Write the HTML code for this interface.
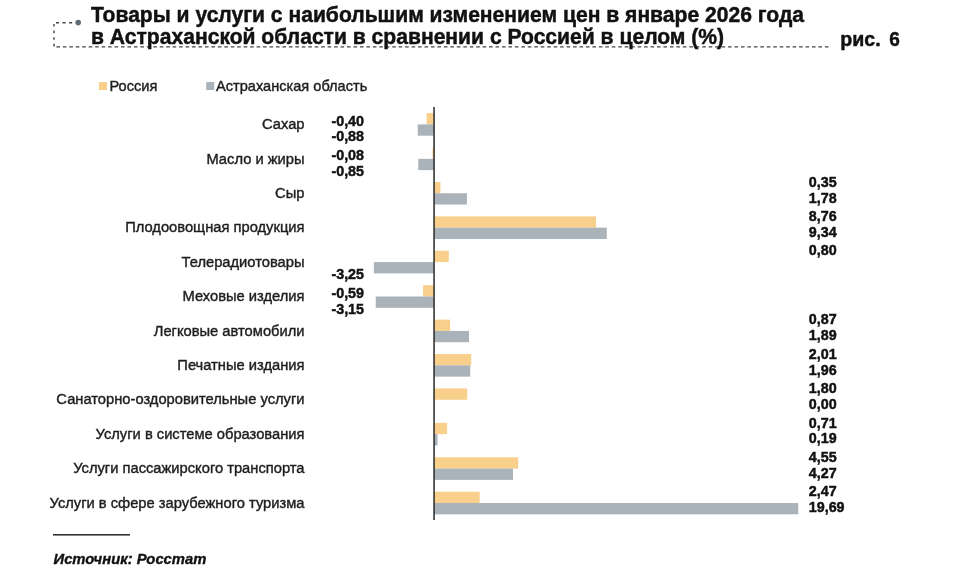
<!DOCTYPE html>
<html><head><meta charset="utf-8">
<style>
html,body{margin:0;padding:0;background:#fff;}
body{width:960px;height:571px;overflow:hidden;position:relative;font-family:"Liberation Sans",sans-serif;}
svg{position:absolute;left:0;top:0;filter:blur(0.3px);}
text{font-family:"Liberation Sans",sans-serif;}
.title{font-size:21.1px;font-weight:bold;fill:#111;stroke:#111;stroke-width:0.45px;}
.cat{font-size:14.72px;fill:#1e1e1e;stroke:#1e1e1e;stroke-width:0.4px;}
.val{font-size:14.3px;font-weight:bold;fill:#111;stroke:#111;stroke-width:0.45px;}
.leg{font-size:14.6px;fill:#1e1e1e;stroke:#1e1e1e;stroke-width:0.4px;}
.src{font-size:14.8px;font-weight:bold;font-style:italic;fill:#111;stroke:#111;stroke-width:0.35px;}
</style></head><body>
<svg width="960" height="571" viewBox="0 0 960 571">
<g stroke="#444" stroke-width="1.4" fill="none">
<line x1="56" y1="22.7" x2="75" y2="22.7" stroke-dasharray="3 3.55"/>
<line x1="54" y1="24" x2="54" y2="46.5" stroke-dasharray="2.6 4"/>
<line x1="56.4" y1="46.9" x2="829" y2="46.9" stroke-dasharray="3.6 2.858"/>
</g>
<circle cx="78.2" cy="22.6" r="2.8" fill="#5f6b78"/>
<text transform="translate(91.00 21.80) scale(1 1.05)" class="title">Товары и услуги с наибольшим изменением цен в январе 2026 года</text>
<text transform="translate(91.00 43.80) scale(1 1.05)" class="title">в Астраханской области в сравнении с Россией в целом (%)</text>
<text transform="translate(840.30 45.50) scale(1 1.0)" class="title" style="font-size:19.6px">рис.</text>
<text transform="translate(889.30 45.50) scale(1 1.02)" class="title" style="font-size:19px">6</text>
<rect x="99" y="82" width="8" height="8" fill="#F8D08C"/>
<text transform="translate(109.50 90.80) scale(1 1.05)" class="leg">Россия</text>
<rect x="206.2" y="82" width="8" height="8" fill="#AAB3BA"/>
<text transform="translate(216.00 90.80) scale(1 1.05)" class="leg">Астраханская область</text>
<rect x="426.60" y="113.10" width="7.40" height="11.3" fill="#F8D08C"/>
<rect x="417.72" y="124.40" width="16.28" height="11.3" fill="#AAB3BA"/>
<text transform="translate(304.50 129.10) scale(1 1.05)" class="cat" text-anchor="end">Сахар</text>
<text transform="translate(364.00 125.50) scale(1 1.05)" class="val" text-anchor="end">-0,40</text>
<text transform="translate(364.00 141.40) scale(1 1.05)" class="val" text-anchor="end">-0,88</text>
<rect x="432.52" y="147.52" width="1.48" height="11.3" fill="#F8D08C"/>
<rect x="418.27" y="158.82" width="15.72" height="11.3" fill="#AAB3BA"/>
<text transform="translate(304.50 163.52) scale(1 1.05)" class="cat" text-anchor="end">Масло и жиры</text>
<text transform="translate(364.00 159.92) scale(1 1.05)" class="val" text-anchor="end">-0,08</text>
<text transform="translate(364.00 176.12) scale(1 1.05)" class="val" text-anchor="end">-0,85</text>
<rect x="434.00" y="181.94" width="6.47" height="11.3" fill="#F8D08C"/>
<rect x="434.00" y="193.24" width="32.93" height="11.3" fill="#AAB3BA"/>
<text transform="translate(304.50 197.94) scale(1 1.05)" class="cat" text-anchor="end">Сыр</text>
<text transform="translate(808.80 186.64) scale(1 1.05)" class="val">0,35</text>
<text transform="translate(808.80 202.54) scale(1 1.05)" class="val">1,78</text>
<rect x="434.00" y="216.36" width="162.06" height="11.3" fill="#F8D08C"/>
<rect x="434.00" y="227.66" width="172.79" height="11.3" fill="#AAB3BA"/>
<text transform="translate(304.50 232.36) scale(1 1.05)" class="cat" text-anchor="end">Плодоовощная продукция</text>
<text transform="translate(808.80 221.06) scale(1 1.05)" class="val">8,76</text>
<text transform="translate(808.80 236.96) scale(1 1.05)" class="val">9,34</text>
<rect x="434.00" y="250.78" width="14.80" height="11.3" fill="#F8D08C"/>
<rect x="373.88" y="262.08" width="60.12" height="11.3" fill="#AAB3BA"/>
<text transform="translate(304.50 266.78) scale(1 1.05)" class="cat" text-anchor="end">Телерадиотовары</text>
<text transform="translate(808.80 255.48) scale(1 1.05)" class="val">0,80</text>
<text transform="translate(364.00 279.48) scale(1 1.05)" class="val" text-anchor="end">-3,25</text>
<rect x="423.08" y="285.20" width="10.91" height="11.3" fill="#F8D08C"/>
<rect x="375.73" y="296.50" width="58.27" height="11.3" fill="#AAB3BA"/>
<text transform="translate(304.50 301.20) scale(1 1.05)" class="cat" text-anchor="end">Меховые изделия</text>
<text transform="translate(364.00 298.30) scale(1 1.05)" class="val" text-anchor="end">-0,59</text>
<text transform="translate(364.00 313.90) scale(1 1.05)" class="val" text-anchor="end">-3,15</text>
<rect x="434.00" y="319.62" width="16.09" height="11.3" fill="#F8D08C"/>
<rect x="434.00" y="330.92" width="34.96" height="11.3" fill="#AAB3BA"/>
<text transform="translate(304.50 335.62) scale(1 1.05)" class="cat" text-anchor="end">Легковые автомобили</text>
<text transform="translate(808.80 324.32) scale(1 1.05)" class="val">0,87</text>
<text transform="translate(808.80 340.22) scale(1 1.05)" class="val">1,89</text>
<rect x="434.00" y="354.04" width="37.18" height="11.3" fill="#F8D08C"/>
<rect x="434.00" y="365.34" width="36.26" height="11.3" fill="#AAB3BA"/>
<text transform="translate(304.50 370.04) scale(1 1.05)" class="cat" text-anchor="end">Печатные издания</text>
<text transform="translate(808.80 358.74) scale(1 1.05)" class="val">2,01</text>
<text transform="translate(808.80 374.64) scale(1 1.05)" class="val">1,96</text>
<rect x="434.00" y="388.46" width="33.30" height="11.3" fill="#F8D08C"/>
<rect x="434.00" y="399.76" width="0.00" height="11.3" fill="#AAB3BA"/>
<text transform="translate(304.50 404.46) scale(1 1.05)" class="cat" text-anchor="end">Санаторно-оздоровительные услуги</text>
<text transform="translate(808.80 393.16) scale(1 1.05)" class="val">1,80</text>
<text transform="translate(808.80 409.06) scale(1 1.05)" class="val">0,00</text>
<rect x="434.00" y="422.88" width="13.13" height="11.3" fill="#F8D08C"/>
<rect x="434.00" y="434.18" width="3.52" height="11.3" fill="#AAB3BA"/>
<text transform="translate(304.50 438.88) scale(1 1.05)" class="cat" text-anchor="end">Услуги в системе образования</text>
<text transform="translate(808.80 427.58) scale(1 1.05)" class="val">0,71</text>
<text transform="translate(808.80 443.48) scale(1 1.05)" class="val">0,19</text>
<rect x="434.00" y="457.30" width="84.17" height="11.3" fill="#F8D08C"/>
<rect x="434.00" y="468.60" width="78.99" height="11.3" fill="#AAB3BA"/>
<text transform="translate(304.50 473.30) scale(1 1.05)" class="cat" text-anchor="end">Услуги пассажирского транспорта</text>
<text transform="translate(808.80 462.00) scale(1 1.05)" class="val">4,55</text>
<text transform="translate(808.80 477.90) scale(1 1.05)" class="val">4,27</text>
<rect x="434.00" y="491.72" width="45.70" height="11.3" fill="#F8D08C"/>
<rect x="434.00" y="503.02" width="364.27" height="11.3" fill="#AAB3BA"/>
<text transform="translate(304.50 507.72) scale(1 1.05)" class="cat" text-anchor="end">Услуги в сфере зарубежного туризма</text>
<text transform="translate(808.80 496.42) scale(1 1.05)" class="val">2,47</text>
<text transform="translate(808.80 512.32) scale(1 1.05)" class="val">19,69</text>
<rect x="433.3" y="107" width="1.5" height="413" fill="#2a2a2a"/>
<rect x="53" y="534" width="77" height="1.6" fill="#333"/>
<text transform="translate(53.50 564.30) scale(1 1.05)" class="src">Источник: Росстат</text>
</svg>
</body></html>
